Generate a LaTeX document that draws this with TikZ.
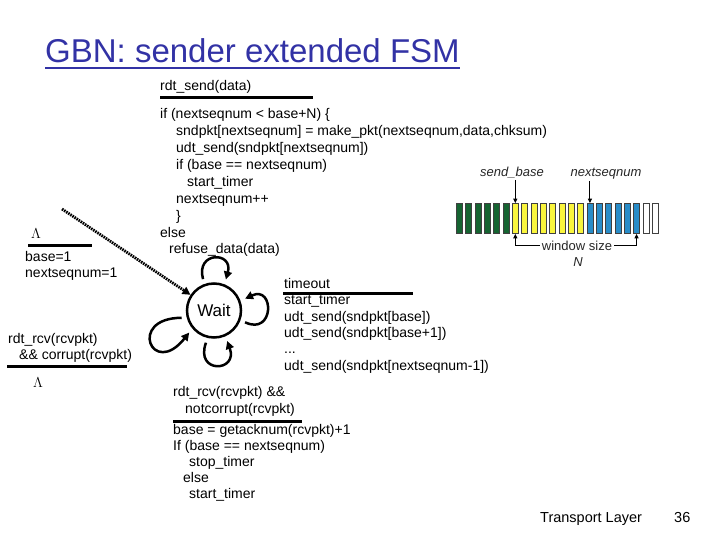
\documentclass[tikz,border=0pt]{standalone}
\usepackage{fontspec}
\setmainfont{Liberation Sans}
\usetikzlibrary{arrows.meta}
\definecolor{titleblue}{RGB}{50,50,165}
\definecolor{ackgreen}{RGB}{22,100,50}
\definecolor{winyellow}{RGB}{250,245,60}
\definecolor{sentblue}{RGB}{40,140,200}
\begin{document}
\begin{tikzpicture}[x=1pt,y=1pt,
	txt/.style={anchor=base west,inner sep=0pt,align=left,font=\fontsize{14}{17}\selectfont},
	bar/.style={line width=3pt},
	selfloop/.style={line width=2.5pt,-{Triangle[length=8pt,width=8pt]},shorten <=5pt,shorten >=5pt},
	cell/.style={draw=black!75,line width=0.7pt,minimum width=6pt,minimum height=30pt,inner sep=0pt},
	tiny/.style={line width=0.9pt,-{Triangle[length=4.5pt,width=4pt]}},
	lbl/.style={inner sep=1pt,font=\fontsize{13}{15}\selectfont\itshape,black!85}]
	\useasboundingbox (0,0) rectangle (720,-540);
	\node[anchor=base west,inner sep=0pt,titleblue,font=\fontsize{33}{40}\selectfont] (title) at (45,-63) {GBN: sender extended FSM};
	\draw[titleblue,line width=2pt] ([yshift=-5pt]title.base west) -- ([yshift=-5pt]title.base east);
	%state
	\node[circle,draw,line width=2.5pt,minimum size=54pt,inner sep=0pt,font=\fontsize{17}{20}\selectfont] (wait) at (214,-310.5) {Wait};
	\coordinate (init) at (62,-209);
	\draw[line width=2.8pt,dash pattern=on 1.6pt off 0.9pt,-{Triangle[length=8pt,width=8pt]}] (init) -- (wait);
	%self loops
	\draw[selfloop] (wait.110) .. controls +(-9,33) and +(9,33) .. (wait.68);
	\draw[selfloop] (wait.-20) .. controls +(34,-16) and +(34,16) .. (wait.20);
	\draw[selfloop] (wait.-103) .. controls +(-13,-36) and +(13,-36) .. (wait.-66);
	\draw[selfloop] (wait.195) .. controls +(-60,0) and +(-40,-50) .. (wait.220);
	%rdt_send (base of a multi-line node = its last line)
	\node[txt] (sendev) at (160,-91) {rdt\_send(data)};
	\draw[bar] (160,-98) -- (313,-98);
	\node[txt,font=\fontsize{14}{16.9}\selectfont] (sendact) at (160,-254) {if (nextseqnum < base+N) \{\\
		\hspace*{16pt}sndpkt[nextseqnum] = make\_pkt(nextseqnum,data,chksum)\\
		\hspace*{16pt}udt\_send(sndpkt[nextseqnum])\\
		\hspace*{16pt}if (base == nextseqnum)\\
		\hspace*{27pt}start\_timer\\
		\hspace*{16pt}nextseqnum++\\
		\hspace*{16pt}\}\\
		else\\
		\hspace*{9pt}refuse\_data(data)};
	%init
	\node[txt] (initlam) at (31,-238) {$\Lambda$};
	\draw[bar] (28,-245) -- (92,-245);
	\node[txt,font=\fontsize{14}{16.5}\selectfont] (initact) at (25,-277.5) {base=1\\nextseqnum=1};
	%corrupt
	\node[txt,font=\fontsize{14}{16}\selectfont] (correv) at (8,-359) {rdt\_rcv(rcvpkt)\\\hspace*{11pt}\&\& corrupt(rcvpkt)};
	\draw[bar] (7,-366) -- (127,-366);
	\node[txt] (corract) at (33,-387) {$\Lambda$};
	%timeout
	\node[txt] (toev) at (284,-288) {timeout};
	\draw[bar] (283,-293) -- (413,-293);
	\node[txt,font=\fontsize{14}{16.3}\selectfont] (toact) at (284,-370) {start\_timer\\udt\_send(sndpkt[base])\\udt\_send(sndpkt[base+1])\\...\\udt\_send(sndpkt[nextseqnum-1])};
	%ack
	\node[txt,font=\fontsize{14}{16.3}\selectfont] (ackev) at (173,-413) {rdt\_rcv(rcvpkt) \&\&\\\hspace*{12pt}notcorrupt(rcvpkt)};
	\draw[bar] (173,-421) -- (302,-421);
	\node[txt,font=\fontsize{14}{16}\selectfont] (ackact) at (173,-498) {base = getacknum(rcvpkt)+1\\If (base == nextseqnum)\\\hspace*{16pt}stop\_timer\\\hspace*{10pt}else\\\hspace*{16pt}start\_timer};
	%window
	\foreach \i in {0,...,5} \node[cell,fill=ackgreen] (c\i) at ({459.3+9.33*\i},-218.5) {};
	\foreach \i in {6,...,13} \node[cell,fill=winyellow] (c\i) at ({459.3+9.33*\i},-218.5) {};
	\foreach \i in {14,...,19} \node[cell,fill=sentblue] (c\i) at ({459.3+9.33*\i},-218.5) {};
	\foreach \i in {20,21} \node[cell,fill=white] (c\i) at ({459.3+9.33*\i},-218.5) {};
	\node[lbl,anchor=base] (sb) at (512,-177) {send\_base};
	\node[lbl,anchor=base] (ns) at (606,-177) {nextseqnum};
	\draw[tiny] (sb.south -| c6.north) -- (c6.north);
	\draw[tiny] (ns.south -| c14.north) -- (c14.north);
	\node[inner sep=2pt,anchor=base,font=\fontsize{13}{15}\selectfont,black!85] (ws) at (577,-250) {window size};
	\node[lbl,anchor=base] (wsn) at (578,-266) {N};
	\draw[tiny] (ws.west) -| (c6.south);
	\draw[tiny] (ws.east) -| (c19.south);
	%footer
	\node[anchor=base west,inner sep=0pt,font=\fontsize{14.5}{17}\selectfont] (footer) at (540,-522) {Transport Layer};
	\node[anchor=base west,inner sep=0pt,font=\fontsize{14.5}{17}\selectfont] (pagenum) at (674,-522) {36};
\end{tikzpicture}
\end{document}
